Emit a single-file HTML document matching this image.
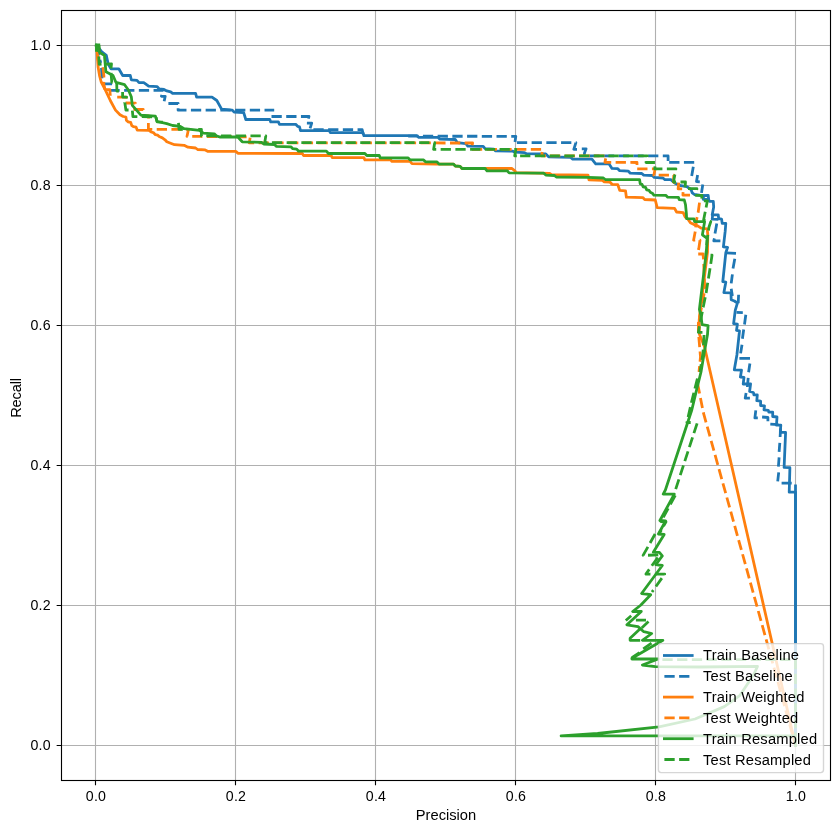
<!DOCTYPE html><html><head><meta charset="utf-8"><title>PRC</title><style>
html,body{margin:0;padding:0;background:#fff}
body{width:839px;height:833px;position:relative;overflow:hidden;font-family:"Liberation Sans",sans-serif;font-size:14.2px;color:#000;letter-spacing:0.55px}
.t{position:absolute;white-space:nowrap;line-height:16px;height:16px;will-change:transform}
.xt{width:60px;text-align:center;top:787.5px;letter-spacing:0.3px}
.yt{width:40px;text-align:right;left:11.1px;letter-spacing:0.3px}
.lg{left:703px;letter-spacing:0.2px;font-size:14.7px}

</style></head><body>
<svg width="839" height="833" viewBox="0 0 839 833" style="position:absolute;left:0;top:0">
<rect x="0" y="0" width="839" height="833" fill="#fff"/>
<path d="M95.5 10.5V780.5M235.5 10.5V780.5M375.5 10.5V780.5M515.5 10.5V780.5M655.5 10.5V780.5M795.5 10.5V780.5M61.5 745.5H830.5M61.5 605.5H830.5M61.5 465.5H830.5M61.5 325.5H830.5M61.5 185.5H830.5M61.5 45.5H830.5" stroke="#b0b0b0" stroke-width="1.11" fill="none"/>
<clipPath id="c"><rect x="61.5" y="10.5" width="769.0" height="770.0"/></clipPath>
<g clip-path="url(#c)" fill="none" stroke-linejoin="round" stroke-linecap="butt">
<polyline points="96.7,45.5 98.5,47.5 101.5,51.5 106.3,55.4 108.2,64.0 111.0,68.8 118.8,68.8 122.7,75.5 130.3,75.5 131.3,79.8 137.0,80.3 139.0,82.6 143.8,82.6 148.6,86.1 157.2,86.7 159.2,89.0 164.0,89.4 166.8,90.9 170.7,91.9 172.6,93.4 195.6,93.4 196.6,97.2 212.0,97.2 216.8,100.5 221.6,109.2 232.1,110.1 234.1,112.0 243.7,112.6 245.8,119.5 269.8,119.5 270.7,121.9 278.4,121.9 279.4,124.3 295.7,124.3 297.6,126.3 299.5,126.8 300.5,130.7 329.3,130.7 330.3,132.6 362.9,132.6 363.9,135.7 416.9,135.7 418.8,137.4 438.0,137.4 439.9,139.1 455.3,139.5 457.2,142.6 465.9,143.6 467.8,146.1 483.2,146.4 485.1,148.7 493.7,149.1 495.6,150.9 512.9,151.2 514.9,152.2 524.5,152.6 526.4,153.7 545.8,154.0 548.6,156.8 570.7,157.4 572.7,159.1 591.9,159.1 595.7,163.9 609.1,163.9 612.0,168.4 617.8,168.7 619.7,170.7 628.4,171.2 630.3,173.2 641.8,173.5 643.7,175.1 652.4,175.5 654.3,177.4 662.9,178.0 664.9,179.6 670.8,179.6 675.0,183.2 680.9,185.7 686.8,186.6 691.0,189.5 692.3,192.9 694.4,194.5 701.9,195.6 708.2,195.4 708.7,199.6 709.5,201.3 713.3,201.3 713.7,207.1 712.2,214.8 718.2,214.8 718.7,218.6 721.6,219.2 722.2,223.4 725.8,223.4 725.2,231.2 723.4,246.8 727.6,247.4 725.8,252.8 722.8,281.6 725.8,282.2 723.9,292.6 731.0,292.8 731.2,299.7 734.4,301.0 737.4,303.1 735.3,310.2 733.6,323.7 737.4,324.1 736.5,330.4 739.5,330.8 736.9,355.0 734.3,369.8 741.5,370.2 740.4,377.0 744.0,377.4 743.2,384.0 750.6,383.8 749.6,391.5 753.4,392.5 753.9,394.9 757.3,394.9 756.8,400.6 760.6,401.1 760.6,405.5 764.5,405.9 764.0,409.8 768.3,410.3 768.8,412.2 772.7,412.2 772.7,416.5 777.0,417.0 776.5,425.1 780.8,425.1 780.3,432.4 785.6,432.4 784.1,467.4 789.9,467.7 789.2,492.2 795.5,492.2 795.5,745.5" stroke="#1f77b4" stroke-width="2.78" stroke-linecap="square"/>
<polyline points="96.7,45.5 98.5,55.0 100.8,63.0" stroke="#1f77b4" stroke-width="2.78" stroke-dasharray="10.28 4.44"/>
<polyline points="110.6,89.2 110.6,90.4 163.5,90.4 161.4,96.3 165.2,96.3 163.6,103.8" stroke="#1f77b4" stroke-width="2.78" stroke-dasharray="10.28 4.44"/>
<polyline points="178.1,108.3 178.1,110.2 274.2,110.2" stroke="#1f77b4" stroke-width="2.78" stroke-dasharray="10.28 4.44"/>
<polyline points="271.5,116.5 309.0,116.5 308.3,118.7" stroke="#1f77b4" stroke-width="2.78" stroke-dasharray="10.28 4.44"/>
<polyline points="313.4,129.7 362.2,129.7 363.3,134.5" stroke="#1f77b4" stroke-width="2.78" stroke-dasharray="10.28 4.44"/>
<polyline points="408.2,136.2 515.8,136.3 514.9,142.7" stroke="#1f77b4" stroke-width="2.78" stroke-dasharray="10.28 4.44"/>
<polyline points="516.9,142.7 575.9,142.7 573.8,149.3 577.0,149.3" stroke="#1f77b4" stroke-width="2.78" stroke-dasharray="10.28 4.44"/>
<polyline points="589.2,155.8 668.1,155.9 668.1,161.0" stroke="#1f77b4" stroke-width="2.78" stroke-dasharray="10.28 4.44"/>
<polyline points="669.2,162.3 694.2,162.3" stroke="#1f77b4" stroke-width="2.78" stroke-dasharray="10.28 4.44"/>
<path d="M101.5 67.9L102.0 78.4M102.3 83.8L110.7 83.8L110.7 85.2M168.4 103.5L178.1 103.5L178.1 104.1M306.9 123.1L311.7 123.1L310.1 128.3M581.8 148.8L586.1 148.8L584.5 153.1L584.3 155.0M693.3 166.8L691.7 175.9M697.6 174.9L696.5 181.5L699.8 181.8M702.8 184.5L701.5 192.9M703.8 194.5L703.2 199.3L708.5 199.5M712.6 215.5L712.2 219.2L718.5 219.4M716.8 223.4L715.0 233.6M714.4 238.4L713.8 240.8L720.4 240.8M725.8 252.8L736.0 253.4M734.8 258.8L733.0 268.4M732.4 274.4L731.2 283.4M731.2 288.8L732.4 296.0M738.6 294.7L738.2 303.1M736.5 312.4L742.8 312.6M745.8 314.8L744.5 324.5M743.7 329.5L742.4 338.8M742.0 344.7L740.6 353.4M739.4 358.4L750.0 358.4M749.9 363.5L748.6 372.3M748.2 377.8L747.4 387.0M746.1 392.9L745.2 398.2L749.9 398.2M755.8 410.3L754.9 417.9L757.8 417.9M762.1 417.0L767.9 417.5L767.9 421.3M770.3 424.2L778.4 424.7M780.6 428.5L780.1 437.0M779.8 442.9L779.1 451.9M779.1 457.3L778.4 466.7M778.7 472.4L777.7 481.4M781.6 483.1L791.7 483.1M795.5 484.5L795.5 745.5" stroke="#1f77b4" stroke-width="2.78"/>
<polyline points="96.7,45.5 97.2,53.8 98.1,67.0 99.6,76.0 101.2,82.0 105.3,89.9 110.3,100.5 115.5,110.1 120.0,114.8 123.2,116.5 125.9,117.0 126.4,120.2 128.0,121.8 130.7,122.4 131.8,125.6 133.4,126.7 136.1,127.2 137.2,130.1 149.0,130.3 151.1,132.0 153.3,132.6 155.4,134.7 157.6,135.2 159.7,136.8 162.4,137.9 165.0,139.8 166.8,141.8 174.5,144.7 184.1,145.3 188.0,147.2 195.6,148.0 197.6,149.5 205.2,149.9 208.1,151.4 236.0,151.4 237.9,153.3 302.4,153.5 303.4,155.5 331.2,155.5 332.2,157.6 363.9,157.6 364.9,159.9 390.8,159.9 391.7,161.4 410.0,161.4 412.0,163.7 436.0,164.1 453.4,164.1 455.3,166.0 460.1,166.4 462.0,168.5 512.0,168.5 514.9,170.8 516.0,172.7 549.6,173.3 551.5,174.7 588.0,175.1 589.0,179.9 602.4,180.3 604.3,181.8 610.1,182.2 612.0,184.3 617.8,184.7 619.7,190.4 625.5,190.8 626.4,197.2 642.8,197.6 644.7,199.5 655.3,200.0 657.2,207.7 674.5,208.3 676.6,212.0 683.2,212.6 685.0,216.8 688.0,219.2 690.4,222.8 694.0,224.6 697.6,225.8 701.2,228.2 707.2,228.8 707.8,234.8 707.5,252.0 700.4,309.4 699.2,320.0 699.4,334.2 704.5,346.8 795.5,745.5" stroke="#ff7f0e" stroke-width="2.78" stroke-linecap="square"/>
<polyline points="96.7,45.5 97.4,54.0 98.6,63.0 102.8,66.5 103.9,76.0 103.8,84.0 105.0,89.6" stroke="#ff7f0e" stroke-width="2.78" stroke-dasharray="10.28 4.44" stroke-dashoffset="5.64"/>
<polyline points="105.6,89.7 109.8,89.7 110.4,96.9 111.0,97.0" stroke="#ff7f0e" stroke-width="2.78" stroke-dasharray="10.28 4.44"/>
<polyline points="117.2,97.1 125.9,97.1 125.5,103.0 135.3,103.1 134.6,109.5 143.2,109.5 142.6,115.8 148.6,115.8 148.5,118.5" stroke="#ff7f0e" stroke-width="2.78" stroke-dasharray="10.28 4.44"/>
<polyline points="148.4,122.9 148.4,129.3 188.5,129.3 187.0,136.3 250.3,136.9 249.2,142.9 472.6,143.0 471.5,149.3 542.7,149.3 541.6,155.9 546.0,155.9" stroke="#ff7f0e" stroke-width="2.78" stroke-dasharray="10.28 4.44"/>
<polyline points="550.0,155.9 606.3,155.9 604.9,162.3 637.0,162.5 637.0,165.0" stroke="#ff7f0e" stroke-width="2.78" stroke-dasharray="10.28 4.44"/>
<polyline points="637.2,168.8 655.2,168.8 653.8,175.2 673.8,175.2 673.4,182.2 676.0,182.3" stroke="#ff7f0e" stroke-width="2.78" stroke-dasharray="10.28 4.44"/>
<polyline points="678.7,182.6 678.1,188.8 683.3,188.9 682.9,195.1 690.0,195.2" stroke="#ff7f0e" stroke-width="2.78" stroke-dasharray="10.28 4.44"/>
<polyline points="699.5,202.6 698.2,212.2 696.5,220.0 695.2,231.8 693.6,240.2 700.0,240.2 698.8,248.6 697.8,254.0 703.0,254.0 703.6,260.0 704.8,290.0 701.0,310.0 698.4,322.7 698.4,332.0 700.5,357.0 699.0,372.0" stroke="#ff7f0e" stroke-width="2.78" stroke-dasharray="10.28 4.44"/>
<polyline points="697.6,383.5 703.3,412.4 795.5,745.5" stroke="#ff7f0e" stroke-width="2.78" stroke-dasharray="10.28 4.44"/>
<polyline points="96.2,45.2 99.0,45.6 99.6,52.5 104.4,55.4 105.9,71.7 113.0,75.5 115.9,82.3 124.6,84.7 128.4,90.0 131.3,96.7 132.3,105.3 140.9,115.2 155.4,116.2 157.2,121.5 166.8,123.6 172.6,125.5 180.3,126.4 184.1,128.7 199.5,130.3 203.3,133.2 214.3,133.8 216.5,135.9 219.7,137.0 237.9,137.0 242.2,141.8 261.5,142.4 263.7,144.0 274.4,144.5 276.5,146.4 290.9,146.8 292.8,148.7 296.7,149.1 298.6,151.2 326.4,151.2 328.4,153.5 364.9,153.5 366.8,155.5 379.3,155.5 380.2,157.8 408.2,158.0 410.2,159.9 423.6,159.9 425.5,161.8 437.0,161.8 439.0,164.1 453.4,164.1 455.3,166.0 460.1,166.4 462.0,168.5 485.1,168.5 487.0,170.8 507.2,170.8 509.1,172.9 543.8,173.2 545.8,175.1 554.4,175.5 556.3,177.0 588.0,177.4 603.4,178.0 605.3,179.5 639.6,179.6 640.2,183.8 642.0,184.4 643.2,186.8 645.6,187.4 646.7,189.8 649.1,190.4 650.3,192.2 652.7,193.4 653.9,195.2 665.8,195.3 667.7,197.2 678.4,197.3 679.2,199.6 684.3,200.0 685.5,204.6 686.4,213.9 686.6,218.7 694.0,218.9 694.6,221.6 704.6,221.7 702.4,234.8 707.2,238.4 706.3,252.0 699.4,309.4 700.8,315.0 702.1,324.6 708.1,325.7 707.5,334.6 703.9,354.8 701.0,372.0 696.7,389.3 691.8,410.0 665.4,490.0 663.2,494.1 674.3,494.1 659.9,520.5 665.6,521.0 658.4,534.0 664.2,534.5 653.3,552.2 659.4,552.4 662.3,555.9 655.8,564.6 662.3,565.5 641.6,593.5 650.7,594.7 640.9,605.0 632.7,611.5 641.3,611.5 626.9,624.8 638.0,626.6 643.8,631.7 651.7,633.5 642.4,640.3 662.9,640.3 631.9,658.3 631.9,659.0 658.2,659.0 642.4,665.0 655.3,666.7 700.0,667.0 757.5,666.3 754.0,674.0 749.0,681.8 740.0,695.3 724.3,706.6 695.0,719.0 659.0,726.9 597.6,733.5 561.1,735.8 795.5,735.8 795.5,745.5" stroke="#2ca02c" stroke-width="2.78" stroke-linecap="square"/>
<path d="M640.2 628.8L630.1 638.3L630.1 640.3L640.2 640.3M631.2 615.8L625.8 620.5M639.5 652.6L631.9 657.6" stroke="#2ca02c" stroke-width="2.78"/>
<path d="M97.6 43.5V51.8" stroke="#2ca02c" stroke-width="5.2"/>
<polyline points="96.7,45.5 98.5,50.0 99.2,64.3 111.5,63.8 110.8,70.0 111.8,82.3 116.7,82.3 116.9,91.0 122.6,91.3 122.6,97.1 126.6,97.1 124.8,102.5 125.9,110.0 132.3,110.0 132.9,116.5 156.0,116.9 157.0,121.8 165.0,122.3" stroke="#2ca02c" stroke-width="2.78" stroke-dasharray="10.28 4.44" stroke-dashoffset="3.5"/>
<polyline points="178.5,122.9 179.0,129.3 184.0,129.3" stroke="#2ca02c" stroke-width="2.78" stroke-dasharray="10.28 4.44"/>
<polyline points="198.2,129.3 201.4,129.3 201.4,135.9 202.0,135.9" stroke="#2ca02c" stroke-width="2.78" stroke-dasharray="10.28 4.44"/>
<polyline points="206.3,135.9 265.8,135.9 264.7,142.7 434.7,142.7 433.6,149.4 515.8,149.4 514.7,155.9 517.0,155.9" stroke="#2ca02c" stroke-width="2.78" stroke-dasharray="10.28 4.44"/>
<polyline points="520.1,155.9 647.2,155.9 646.0,162.5 655.5,162.5 654.7,168.9 675.9,168.8 673.5,182.0 685.5,182.0 685.0,188.7 696.9,188.7 696.0,195.4 702.0,195.4 701.5,200.8 707.4,200.8 703.6,220.0 710.8,221.6 709.0,227.0 707.3,238.4 706.0,254.5" stroke="#2ca02c" stroke-width="2.78" stroke-dasharray="10.28 4.44"/>
<polyline points="710.5,255.1 712.0,255.2 710.8,263.6 708.4,278.6 706.0,293.6 703.2,307.3 699.4,326.5 698.4,332.3 704.2,332.3 703.0,353.0 700.0,372.0" stroke="#2ca02c" stroke-width="2.78" stroke-dasharray="10.28 4.44"/>
<polyline points="697.4,378.5 691.3,403.0 686.9,422.5 690.7,422.5" stroke="#2ca02c" stroke-width="2.78" stroke-dasharray="10.28 4.44"/>
<polyline points="697.1,423.4 674.8,492.0" stroke="#2ca02c" stroke-width="2.78" stroke-dasharray="10.28 4.44"/>
<polyline points="675.3,495.4 661.0,521.5 666.0,521.8 659.3,533.6" stroke="#2ca02c" stroke-width="2.78" stroke-dasharray="10.28 4.44"/>
<polyline points="655.1,534.0 643.1,555.4 659.6,554.9 645.9,574.1 664.7,574.1 652.0,592.0" stroke="#2ca02c" stroke-width="2.78" stroke-dasharray="10.28 4.44"/>
<polyline points="662.4,659.6 795.5,659.6 795.5,745.5" stroke="#2ca02c" stroke-width="2.78" stroke-dasharray="10.28 4.44"/>
<path d="M635.9 620.1L646.0 620.1M648.5 621.6L641.7 628.1M651.5 643.2L643.3 649.0" stroke="#2ca02c" stroke-width="2.78"/>
</g>
<path d="M95.5 780.5v4.86M235.5 780.5v4.86M375.5 780.5v4.86M515.5 780.5v4.86M655.5 780.5v4.86M795.5 780.5v4.86M61.5 745.5h-4.86M61.5 605.5h-4.86M61.5 465.5h-4.86M61.5 325.5h-4.86M61.5 185.5h-4.86M61.5 45.5h-4.86" stroke="#000" stroke-width="1.11" fill="none"/>
<rect x="61.5" y="10.5" width="769.0" height="770.0" fill="none" stroke="#000" stroke-width="1.11"/>
<rect x="658.4" y="643.6" width="165.10000000000002" height="129.0" rx="2.8" ry="2.8" fill="#fff" fill-opacity="0.8" stroke="#ccc" stroke-opacity="0.8" stroke-width="1.39"/>
<path d="M664.4 655.5h27.8" stroke="#1f77b4" stroke-width="2.78" stroke-linecap="square" fill="none"/>
<path d="M664.4 676.3h27.8" stroke="#1f77b4" stroke-width="2.78" stroke-dasharray="10.28 4.44" fill="none"/>
<path d="M664.4 697.1h27.8" stroke="#ff7f0e" stroke-width="2.78" stroke-linecap="square" fill="none"/>
<path d="M664.4 717.9h27.8" stroke="#ff7f0e" stroke-width="2.78" stroke-dasharray="10.28 4.44" fill="none"/>
<path d="M664.4 738.7h27.8" stroke="#2ca02c" stroke-width="2.78" stroke-linecap="square" fill="none"/>
<path d="M664.4 759.5h27.8" stroke="#2ca02c" stroke-width="2.78" stroke-dasharray="10.28 4.44" fill="none"/>
</svg>
<div class="t xt" style="left:65.8px">0.0</div>
<div class="t xt" style="left:205.8px">0.2</div>
<div class="t xt" style="left:345.8px">0.4</div>
<div class="t xt" style="left:485.8px">0.6</div>
<div class="t xt" style="left:625.8px">0.8</div>
<div class="t xt" style="left:765.8px">1.0</div>
<div class="t yt" style="top:737.2px">0.0</div>
<div class="t yt" style="top:597.2px">0.2</div>
<div class="t yt" style="top:457.2px">0.4</div>
<div class="t yt" style="top:317.2px">0.6</div>
<div class="t yt" style="top:177.2px">0.8</div>
<div class="t yt" style="top:37.2px">1.0</div>
<div class="t" style="left:395.6px;width:100px;text-align:center;top:806.5px;letter-spacing:0;font-size:14.7px">Precision</div>
<div class="t" style="left:-34px;width:100px;text-align:center;top:390.4px;letter-spacing:-0.2px;font-size:14.7px;transform:rotate(-90deg)">Recall</div>
<div class="t lg" style="top:647.2px">Train Baseline</div>
<div class="t lg" style="top:668.2px">Test Baseline</div>
<div class="t lg" style="top:689.1px">Train Weighted</div>
<div class="t lg" style="top:710.1px">Test Weighted</div>
<div class="t lg" style="top:731.0px">Train Resampled</div>
<div class="t lg" style="top:752.0px">Test Resampled</div>
</body></html>
